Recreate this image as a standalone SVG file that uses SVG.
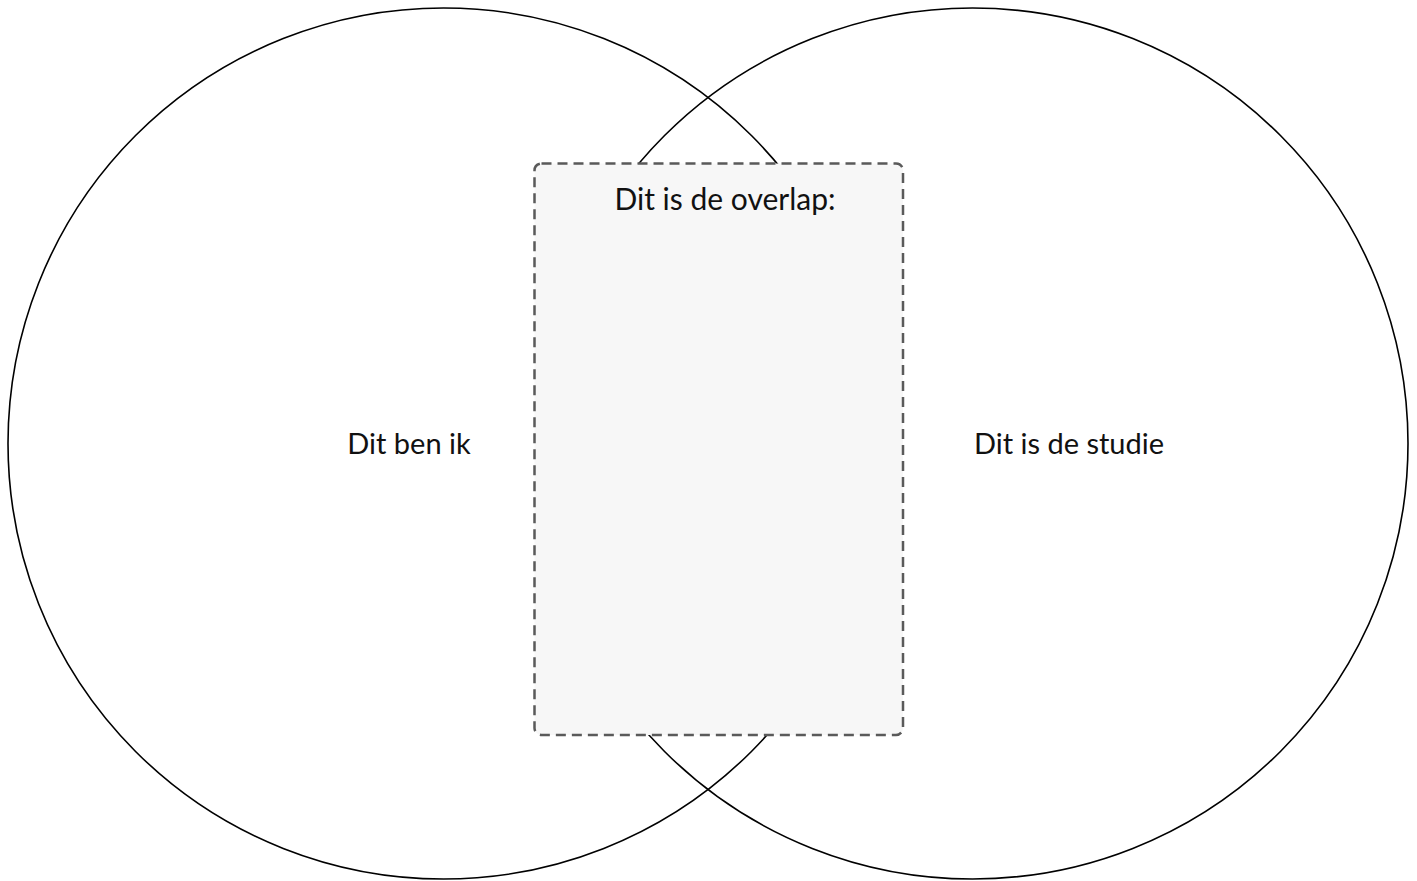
<svg xmlns="http://www.w3.org/2000/svg" width="1417" height="881" viewBox="0 0 1417 881">
<style>
.c{fill:none;stroke:#000;stroke-width:1.6}
.t{font-family:Lato,"Liberation Sans",sans-serif;font-size:29px;fill:#111;text-anchor:middle}
.b{fill:#f7f7f7;stroke:#5a5a5a;stroke-width:2.5;stroke-dasharray:10 6}
</style>
<rect width="1417" height="881" fill="#fff"/>
<g id="circle-left"><circle class="c" cx="443.5" cy="443.5" r="435.5"/><text class="t" x="409" y="454">Dit ben ik</text></g>
<g id="circle-right"><circle class="c" cx="972.5" cy="443.5" r="435.5"/><text class="t" x="1069" y="454">Dit is de studie</text></g>
<g id="overlap"><rect class="b" x="534.5" y="163.5" width="368.5" height="571.5" rx="7"/><text class="t" x="725" y="209.5" style="font-size:30px">Dit is de overlap:</text></g>
<g id="connectors"/>
</svg>
